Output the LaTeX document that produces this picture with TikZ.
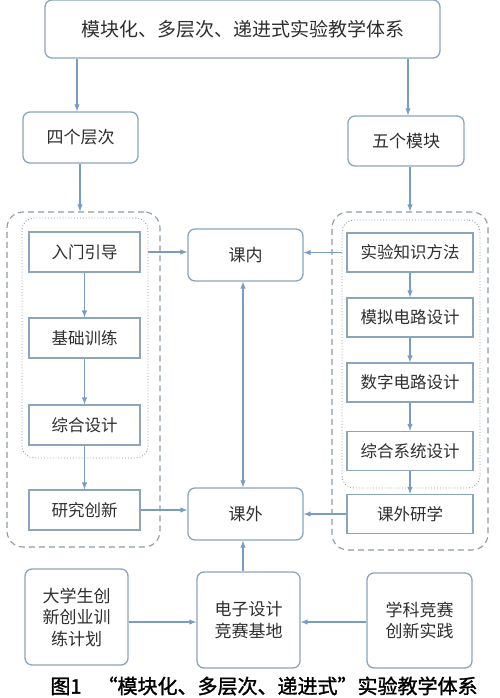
\documentclass[tikz,border=0pt]{standalone}
\usepackage{fontspec}
\setmainfont{Noto Sans CJK SC}
\newfontfamily\capfont[FakeBold=1.5]{Noto Sans CJK SC}
\usepackage{tikz}
\usetikzlibrary{arrows,positioning}
\definecolor{boxline}{HTML}{8CA5BD}
\definecolor{arrowline}{HTML}{7A9CBF}
\definecolor{groupline}{HTML}{8E9CAA}
\definecolor{txt}{HTML}{2E2E2E}

\begin{document}
\begin{tikzpicture}[x=1pt,y=-1pt,>=latex,
  rbox/.style={draw=boxline,line width=1.3pt,rounded corners=7pt,text=txt,
    font=\fontsize{17}{21.5}\selectfont,align=center,inner sep=0pt},
  sbox/.style={draw=boxline,line width=1.1pt,text=txt,
    font=\fontsize{16.5}{20}\selectfont,inner sep=0pt},
  outerbox/.style={draw=groupline,line width=1.1pt,dash pattern=on 6pt off 4pt,
    rounded corners=16pt,inner sep=0pt},
  dotbox/.style={draw=groupline,line width=0.9pt,dotted,rounded corners=12pt,inner sep=0pt},
  flow/.style={->,draw=arrowline,line width=1.4pt}]
\useasboundingbox[fill=white] (0,0) rectangle (499,698);

% top
\node[rbox,minimum width=395pt,minimum height=58pt,
  font=\fontsize{19}{22}\selectfont] (sys) at (242.5,29) {模块化、多层次、递进式实验教学体系};
\node[rbox,minimum width=115pt,minimum height=51pt] (lvl) at (80.5,137.5) {四个层次};
\node[rbox,minimum width=116pt,minimum height=50pt] (mod) at (406,141) {五个模块};

% groups
\node[outerbox,minimum width=153pt,minimum height=335pt] (lgrp) at (83.5,379.5) {};
\node[dotbox,minimum width=126pt,minimum height=240pt] (ldot) at (85,338) {};
\node[outerbox,minimum width=156pt,minimum height=338pt] (rgrp) at (410,381) {};
\node[dotbox,minimum width=138pt,minimum height=268pt] (rdot) at (411,354) {};

% four levels
\node[sbox,minimum width=111pt,minimum height=40pt] (intro) at (84.5,252) {入门引导};
\node[sbox,minimum width=111pt,minimum height=40pt] (basic) at (84.5,338) {基础训练};
\node[sbox,minimum width=111pt,minimum height=40pt] (synth) at (84.5,425) {综合设计};
\node[sbox,minimum width=111pt,minimum height=40pt] (innov) at (84.5,510) {研究创新};

% five modules
\node[sbox,minimum width=126pt,minimum height=39pt] (know) at (410,252.5) {实验知识方法};
\node[sbox,minimum width=126pt,minimum height=39pt] (analog) at (410,317.5) {模拟电路设计};
\node[sbox,minimum width=126pt,minimum height=39pt] (digit) at (410,382.5) {数字电路设计};
\node[sbox,minimum width=126pt,minimum height=39pt] (sysd) at (410,451) {综合系统设计};
\node[sbox,minimum width=126pt,minimum height=39pt] (extra) at (410,514) {课外研学};

% in class / out of class
\node[rbox,minimum width=115pt,minimum height=52pt] (inside) at (245.5,255) {课内};
\node[rbox,minimum width=115pt,minimum height=52pt] (outside) at (245.5,514) {课外};

% bottom row
\node[rbox,minimum width=103pt,minimum height=96pt] (plan) at (76.5,617) {大学生创\\新创业训\\练计划};
\node[rbox,minimum width=103pt,minimum height=96pt] (base) at (248.5,620) {电子设计\\竞赛基地};
\node[rbox,minimum width=105pt,minimum height=95pt] (comp) at (419.5,620.5) {学科竞赛\\创新实践};

\node[text=black,font=\capfont\fontsize{20}{23}\selectfont] (cap) at (264,686)
  {图1\hspace{0.8em}“模块化、多层次、递进式”实验教学体系};

% arrows
\draw[flow] (sys.south -| 77,0) -- (lvl.north -| 77,0);
\draw[flow] (sys.south -| 408,0) -- (mod.north -| 408,0);
\draw[flow] (lvl.south -| 80,0) -- (lgrp.north -| 80,0);
\draw[flow] (mod.south -| 410,0) -- (rgrp.north -| 410,0);
\draw[flow] (intro) -- (basic);
\draw[flow] (basic) -- (synth);
\draw[flow] (synth) -- (innov);
\draw[flow] (know) -- (analog);
\draw[flow] (analog) -- (digit);
\draw[flow] (digit) -- (sysd);
\draw[flow] (sysd) -- (extra);
\draw[flow] (ldot.east |- intro) -- (inside.west |- intro);
\draw[flow] (innov.east) -- (outside.west |- innov);
\draw[flow] (rdot.west |- know) -- (inside.east |- know);
\draw[flow] (extra.west) -- (outside.east |- extra);
\draw[<->,draw=arrowline,line width=1.4pt] (inside.south -| 243,0) -- (outside.north -| 243,0);
\draw[flow] (base.north -| 243,0) -- (outside.south -| 243,0);
\draw[flow] (plan.east |- 0,622) -- (base.west |- 0,622);
\draw[flow] (comp.west |- 0,622) -- (base.east |- 0,622);
\end{tikzpicture}
\end{document}
